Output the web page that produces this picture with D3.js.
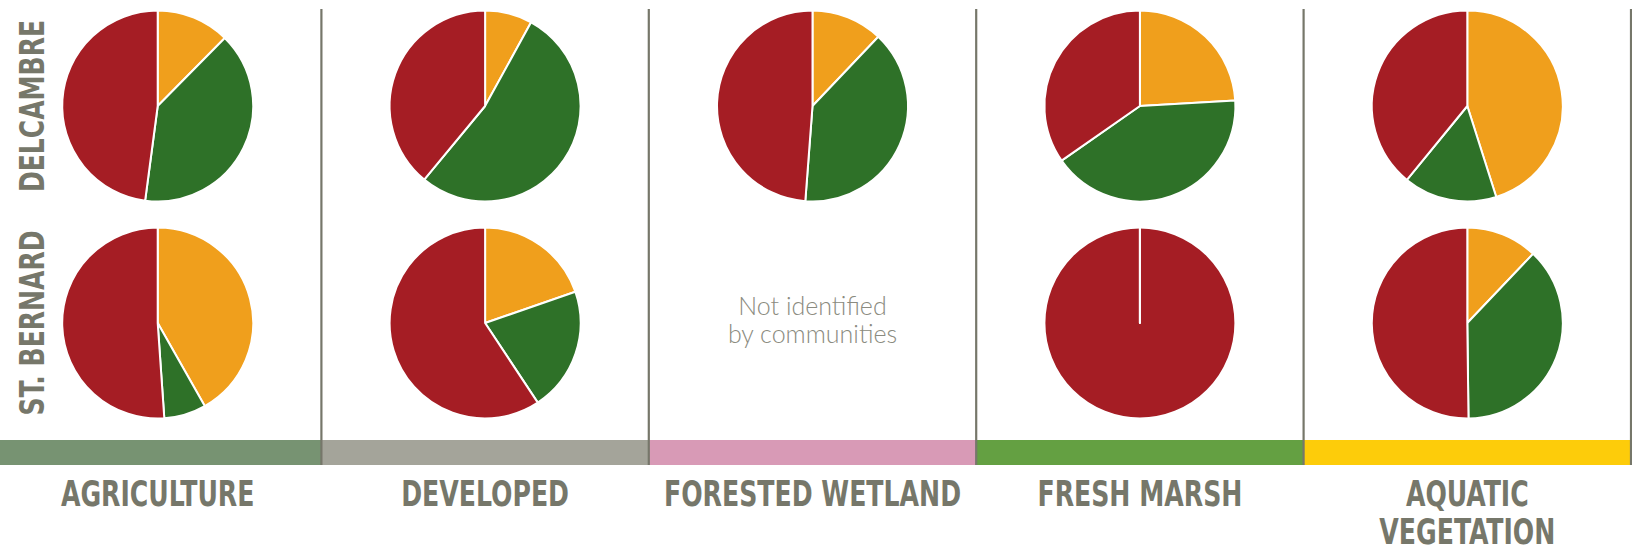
<!DOCTYPE html>
<html>
<head>
<meta charset="utf-8">
<script src="https://cdn.jsdelivr.net/npm/d3@7"></script>
<style>
  body { margin: 0; background: #fff; }
  svg { display: block; }
</style>
</head>
<body>
<div id="canvas"></div>
<script>
const habitats = [
  'AGRICULTURE',
  'DEVELOPED',
  'FORESTED WETLAND',
  'FRESH MARSH',
  'AQUATIC VEGETATION'
]

const communities = ['DELCAMBRE', 'ST. BERNARD']

// slice order, clockwise from 12 o'clock
const ratings = ['orange', 'green', 'red']

// percent per habitat, in ratings order
const delcambre = [
  [12.4, 39.7, 47.9],
  [8.0, 53.0, 39.0],
  [12.1, 39.1, 48.8],
  [24.1, 41.2, 34.7],
  [45.1, 15.8, 39.1]
]

const stBernard = [
  [41.8, 7.1, 51.1],
  [19.7, 21.0, 59.3],
  null,
  [0, 0, 100],
  [12.1, 37.7, 50.2]
]

const missingNote = ['Not identified', 'by communities']

const width = 1632
const height = 550
const radius = 95.5
const textColor = '#76776a'
const labelFont = '"Liberation Sans Narrow", "DejaVu Sans Condensed", sans-serif'

const sliceColor = d3.scaleOrdinal()
  .domain(ratings)
  .range(['#f09f1c', '#2e7128', '#a51d24'])

const bandColor = d3.scaleOrdinal()
  .domain(habitats)
  .range(['#779372', '#a4a49a', '#d89ab6', '#64a042', '#fdcc0a'])

const svg = d3.select('#canvas')
  .append('svg')
    .attr('width', width)
    .attr('height', height)

const x = d3.scaleBand()
  .domain(habitats)
  .range([-6, 1631])

const y = d3.scalePoint()
  .domain(communities)
  .range([106, 323])

const pie = d3.pie()
  .sort(null)
  .value(d => d.value)

const arc = d3.arc()
  .innerRadius(0)
  .outerRadius(radius)

// colour bands under each column
svg.append('g')
  .selectAll('rect')
  .data(habitats)
  .enter()
  .append('rect')
    .attr('x', d => Math.max(0, x(d)))
    .attr('y', 440)
    .attr('width', d => x.bandwidth() + Math.min(0, x(d)))
    .attr('height', 25)
    .attr('fill', d => bandColor(d))

// column dividers
svg.append('g')
  .selectAll('line')
  .data(habitats)
  .enter()
  .append('line')
    .attr('x1', d => x(d) + x.bandwidth())
    .attr('x2', d => x(d) + x.bandwidth())
    .attr('y1', 9)
    .attr('y2', 465)
    .attr('stroke', textColor)
    .attr('stroke-width', 2.2)

const series = [delcambre, stBernard]

communities.forEach((name, r) => {
  habitats.forEach((h, c) => {
    const values = series[r][c]
    const cx = x(h) + x.bandwidth() / 2
    const cy = y(name)
    if (!values) {
      svg.append('g')
        .selectAll('text')
        .data(missingNote)
        .enter()
        .append('text')
          .attr('x', cx)
          .attr('y', (d, i) => cy - 8 + i * 27.5)
          .attr('text-anchor', 'middle')
          .attr('font-family', '"Lato Light", Lato, "Open Sans", sans-serif')
          .attr('font-weight', 300)
          .attr('font-size', 25)
          .attr('fill', '#8b8b80')
          .text(d => d)
      return
    }
    const g = svg.append('g')
      .attr('transform', `translate(${cx}, ${cy})`)
    g.selectAll('path')
      .data(pie(ratings.map((k, i) => ({ key: k, value: values[i] }))))
      .enter()
      .append('path')
        .attr('d', arc)
        .attr('fill', d => sliceColor(d.data.key))
        .attr('stroke', '#fff')
        .attr('stroke-width', 2)
        .attr('stroke-linejoin', 'round')
      .filter(d => d.value === 0)
        .raise()
  })
})

// row labels
svg.append('g')
  .selectAll('text')
  .data(communities)
  .enter()
  .append('text')
    .attr('transform', d => `translate(43.5, ${y(d)}) rotate(-90) scale(0.82, 1)`)
    .attr('text-anchor', 'middle')
    .attr('font-family', labelFont)
    .attr('font-weight', 'bold')
    .attr('font-size', 34)
    .attr('fill', textColor)
    .text(d => d)

// column labels
const labelLines = {
  'AQUATIC VEGETATION': ['AQUATIC', 'VEGETATION']
}

svg.append('g')
  .selectAll('text')
  .data(habitats)
  .enter()
  .append('text')
    .attr('transform', d => `translate(${x(d) + x.bandwidth() / 2}, 506) scale(0.8, 1)`)
    .attr('text-anchor', 'middle')
    .attr('font-family', labelFont)
    .attr('font-weight', 'bold')
    .attr('font-size', 35)
    .attr('fill', textColor)
    .each(function(d) {
      d3.select(this).selectAll('tspan')
        .data(labelLines[d] || [d])
        .enter()
        .append('tspan')
          .attr('x', 0)
          .attr('dy', (t, i) => i === 0 ? 0 : 38)
          .text(t => t)
    })
</script>
</body>
</html>
